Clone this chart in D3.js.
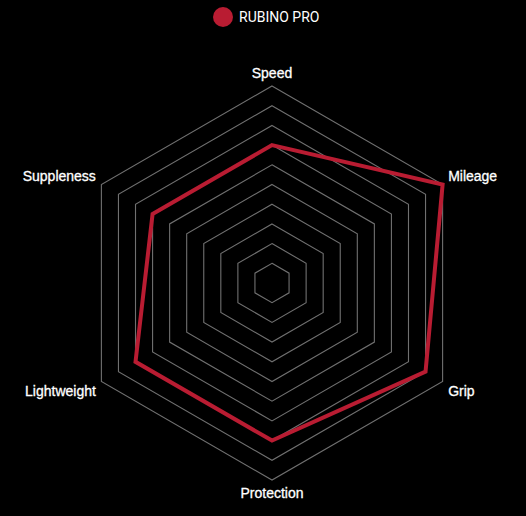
<!DOCTYPE html>
<html>
<head>
<meta charset="utf-8">
<script src="https://cdn.jsdelivr.net/npm/d3@7"></script>
<style>
  html, body { margin: 0; padding: 0; background: #000; }
  svg { display: block; }
</style>
</head>
<body>
<svg id="chart"></svg>
<script>
var categories = ["Speed", "Mileage", "Grip", "Protection", "Lightweight", "Suppleness"];
var seriesName = "RUBINO PRO";
var seriesValues = [7, 10, 9, 8, 8, 7];
var levels = [1, 2, 3, 4, 5, 6, 7, 8, 9, 10];

var width = 526,
    height = 516,
    cx = 272,
    cy = 283,
    radius = 197,
    red = "#b91c32";

var svg = d3.select("#chart")
    .attr("width", width)
    .attr("height", height);

var r = d3.scaleLinear().domain([0, 10]).range([0, radius]);
var angle = d3.scaleLinear().domain([0, categories.length]).range([0, 2 * Math.PI]);

function pt(i, v) {
    var a = angle(i) - Math.PI / 2;
    return [cx + Math.cos(a) * r(v), cy + Math.sin(a) * r(v)];
}

var g = svg.append("g");

// grid
var line = d3.line();
g.selectAll(".level")
    .data(levels)
    .enter()
    .append("path")
    .attr("class", "level")
    .attr("d", function (lv) {
        return line(categories.map(function (c, i) { return pt(i, lv); })) + "Z";
    })
    .attr("fill", "none")
    .attr("stroke", "#707070")
    .attr("stroke-width", 1.1);

// series
g.append("path")
    .datum(seriesValues)
    .attr("d", function (d) {
        return line(d.map(function (v, i) { return pt(i, v); })) + "Z";
    })
    .attr("fill", "none")
    .attr("stroke", red)
    .attr("stroke-width", 4)
    .attr("stroke-linejoin", "miter");

// axis labels
g.selectAll(".label")
    .data(categories)
    .enter()
    .append("text")
    .attr("class", "label")
    .each(function (c, i) {
        var a = angle(i);
        var anchor = "middle", dx = 0, dy = 0, p;
        if (Math.abs(Math.sin(a)) > 0.1) {
            p = pt(i, 10.5);
            anchor = Math.sin(a) > 0 ? "start" : "end";
            dx = Math.sin(a) > 0 ? -3 : 3;
            dy = Math.cos(a) < 0 ? 5 : -4;
        } else {
            p = pt(i, 10.65);
        }
        d3.select(this)
            .attr("x", p[0] + dx)
            .attr("y", p[1] + dy)
            .attr("text-anchor", anchor)
            .attr("dominant-baseline", "central");
    })
    .attr("fill", "#fff")
    .attr("font-family", "Liberation Sans, Arial, sans-serif")
    .attr("font-size", 14)
    .attr("stroke", "#fff")
    .attr("stroke-width", 0.3)
    .text(function (d) { return d; });

// legend
var legend = svg.append("g").attr("transform", "translate(223,17)");
legend.append("circle").attr("r", 10).attr("fill", red);
legend.append("text")
    .attr("x", 16)
    .attr("y", 0)
    .attr("dominant-baseline", "central")
    .attr("fill", "#fff")
    .attr("font-family", "Roboto, sans-serif")
    .attr("font-size", 14)
    .text(seriesName);
</script>
</body>
</html>
